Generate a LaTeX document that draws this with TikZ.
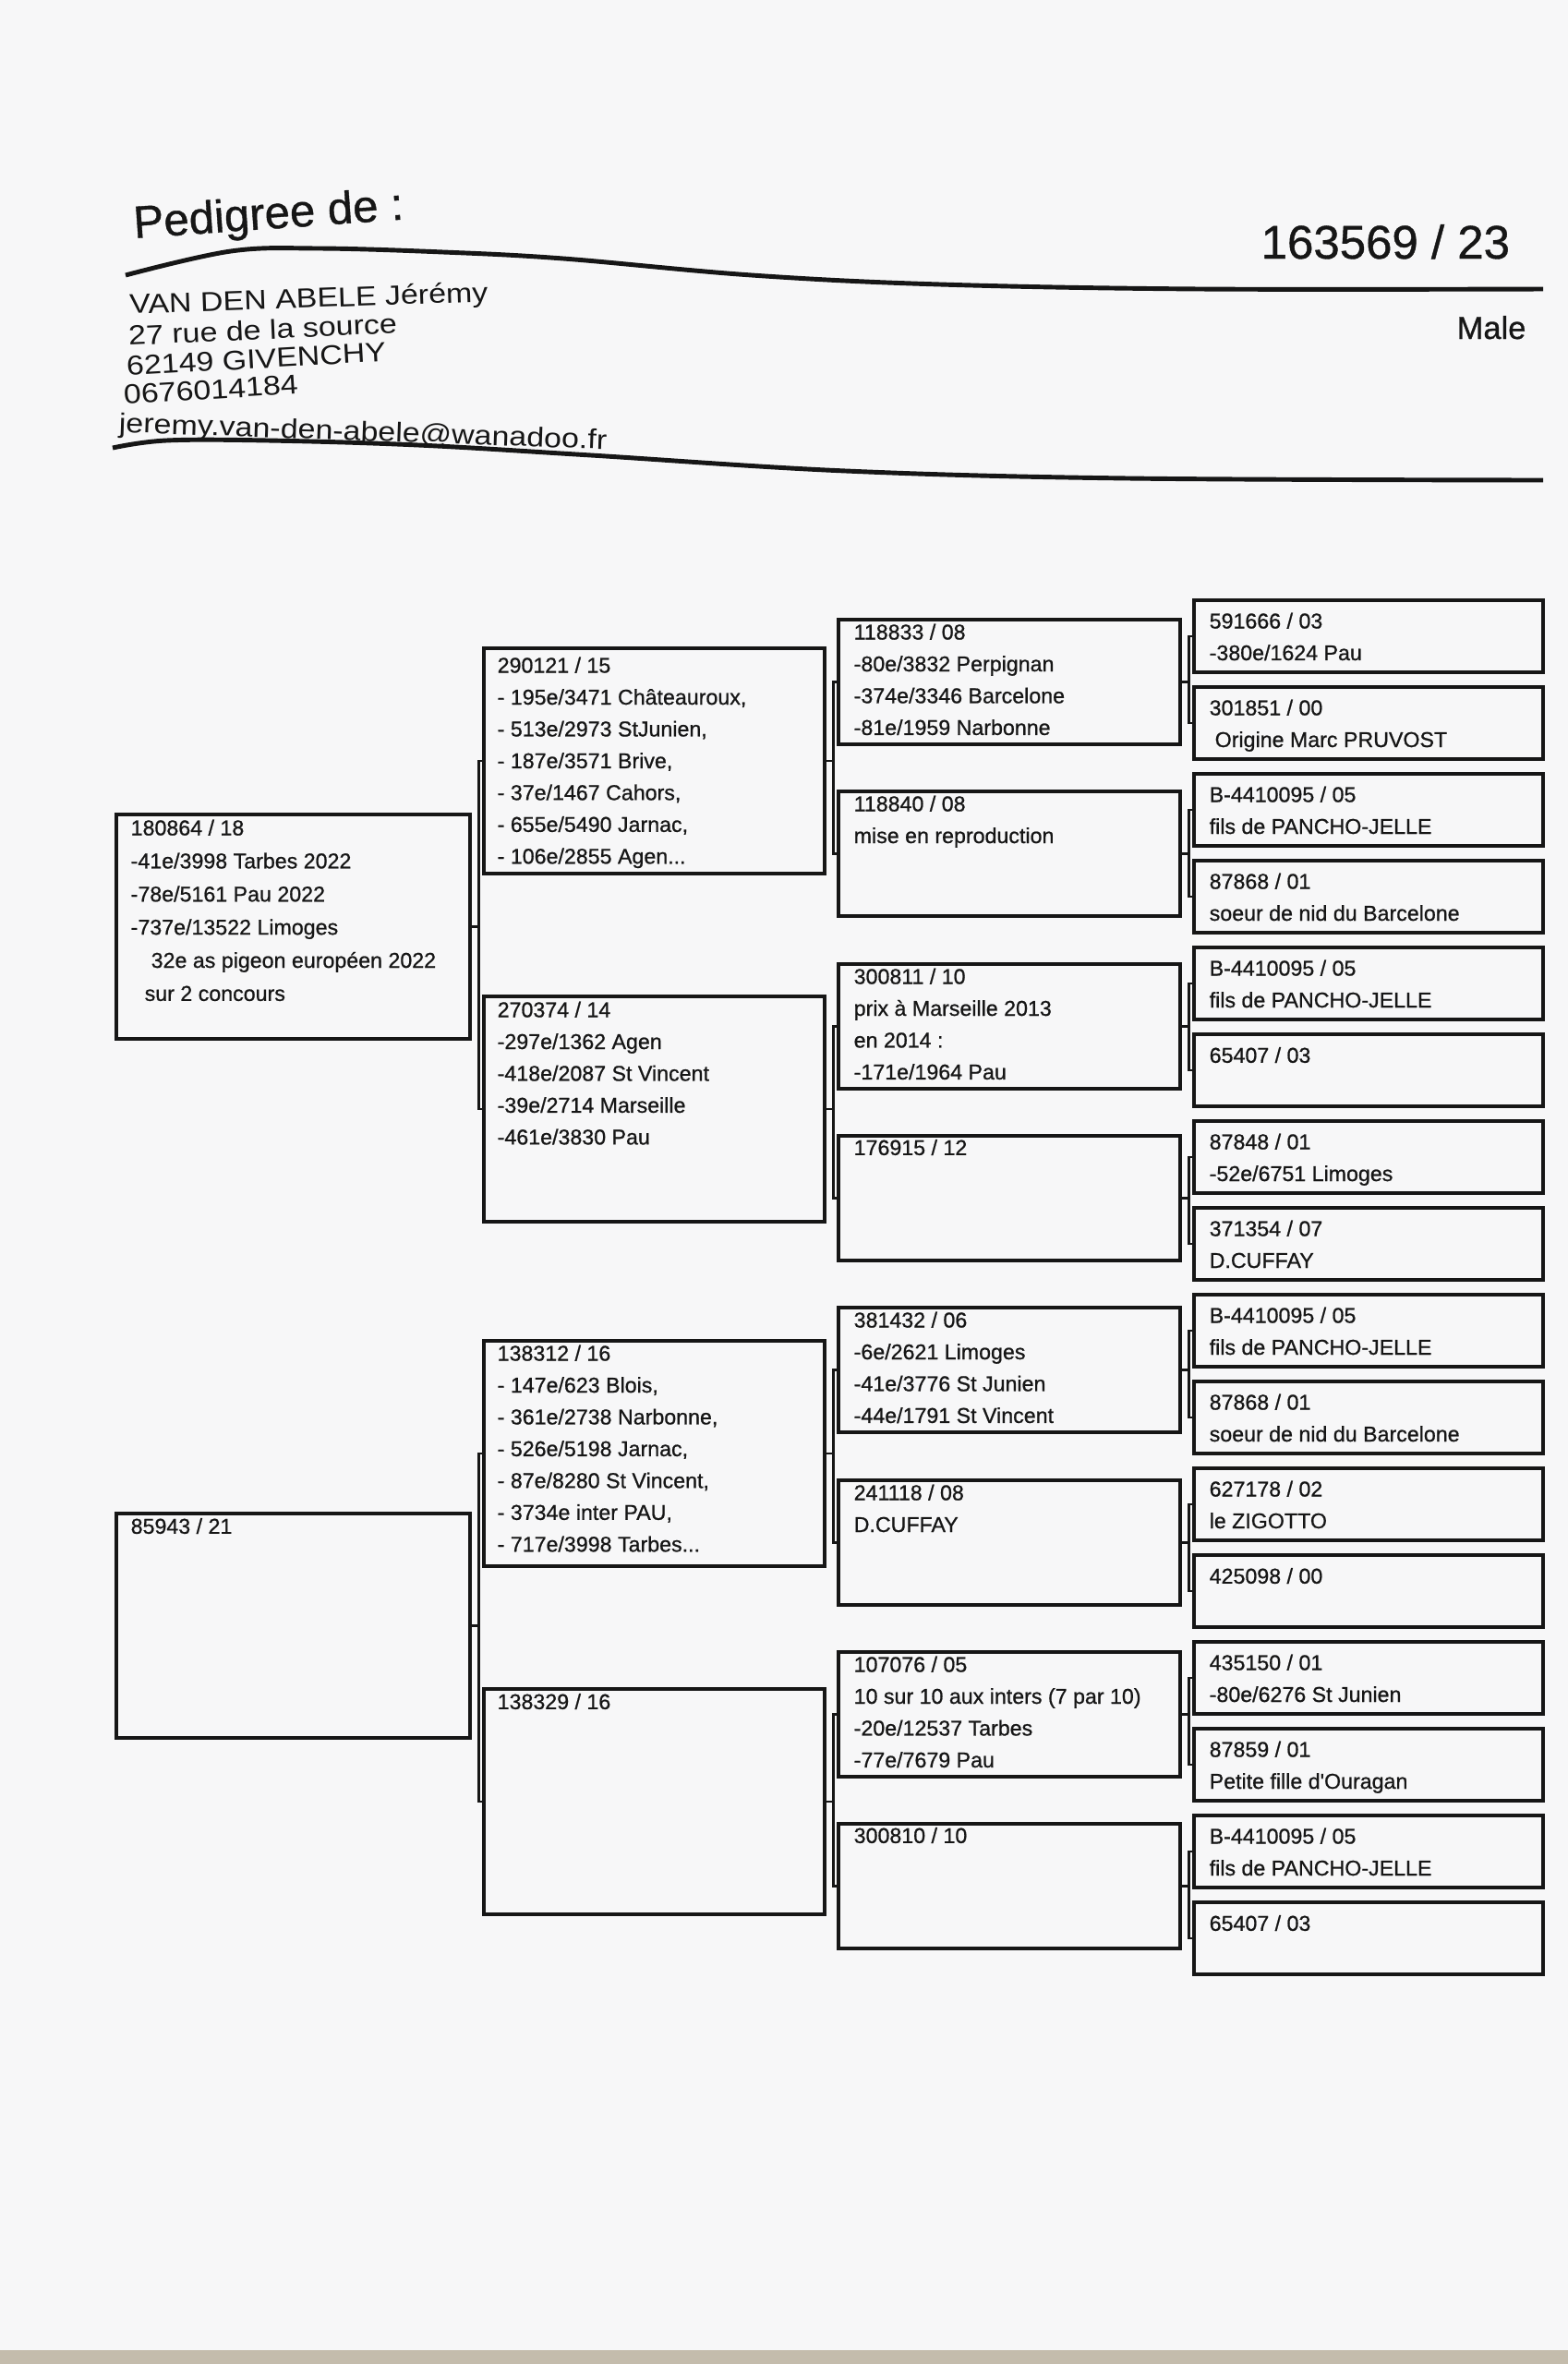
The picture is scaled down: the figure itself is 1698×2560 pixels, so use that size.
\documentclass[tikz,border=0pt]{standalone}
\usepackage{fontspec}
\setmainfont{Liberation Sans}[RawFeature={embolden=0.8}]
\newfontfamily\addrfont{Liberation Sans}[FakeStretch=1.15]
\usetikzlibrary{positioning, calc}

\definecolor{paper}{RGB}{247,247,248}
\definecolor{ink}{RGB}{22,22,22}
\definecolor{edgecol}{RGB}{196,188,172}

\begin{document}
\begin{tikzpicture}[
    x=0.01cm, y=-0.01cm,
    box/.style={draw=ink, line width=1.2pt, anchor=north west, inner sep=0pt},
    gen1/.style={box, minimum width=3.83cm, minimum height=2.43cm},
    gen2/.style={box, minimum width=3.69cm, minimum height=2.44cm},
    gen3/.style={box, minimum width=3.70cm, minimum height=1.35cm},
    gen4/.style={box, minimum width=3.78cm, minimum height=0.78cm},
    info/.style={anchor=north west, align=left, inner sep=0pt, text=ink, font=\fontsize{6.6}{9.8}\selectfont, execute at begin node=\strut},
    lines/.style={info, yshift=-0.08cm},
    addr/.style={anchor=base west, inner sep=0pt, text=ink, font=\addrfont\fontsize{8.4}{9.5}\selectfont},
    link/.style={draw=ink, line width=0.7pt},
    rule/.style={draw=ink, line width=1.4pt}
]
    % Paper
    \useasboundingbox (0,0) rectangle (1698,2560);
    \fill[paper] (0,0) rectangle (1698,2560);
    \fill[edgecol] (0,2545) rectangle (1698,2560);

    % Header
    \node[anchor=base west, inner sep=0pt, text=ink, font=\fontsize{14}{16}\selectfont, rotate=4] (title) at (145,258) {Pedigree de :};
    \node[anchor=base west, inner sep=0pt, text=ink, font=\fontsize{14.5}{16}\selectfont] (ring) at (1365,280) {163569 / 23};
    \node[anchor=base west, inner sep=0pt, text=ink, font=\fontsize{9.8}{11}\selectfont] (sex) at (1577,367) {Male};
    \draw[rule] plot[smooth, tension=0.6] coordinates {(136,298) (250,272) (345,269) (480,273) (610,280) (814,298) (1018,308) (1300,313) (1671,313)};
    \node[addr, rotate=2] (owner) at (140,340) {VAN DEN ABELE Jérémy};
    \node[addr, rotate=2.6] (street) at (139,374) {27 rue de la source};
    \node[addr, rotate=3.2] (town) at (137,407) {62149 GIVENCHY};
    \node[addr, rotate=3.5] (phone) at (134,438) {0676014184};
    \node[addr, rotate=-2] (mail) at (128,468) {jeremy.van-den-abele@wanadoo.fr};
    \draw[rule] plot[smooth, tension=0.6] coordinates {(122,485) (180,477) (290,477) (453,482) (640,493) (916,510) (1222,518) (1671,520)};

    % Parents
    \node[gen1] (a1) at (124,880) {};
    \node[gen1] (a2) at (124,1637) {};
    \node[lines, font=\fontsize{6.6}{10.2}\selectfont] (a1t) at ([shift={(17,-1)}]a1.north west) {180864 / 18\\-41e/3998 Tarbes 2022\\-78e/5161 Pau 2022\\-737e/13522 Limoges\\\hspace*{0.22cm}32e as pigeon européen 2022\\\hspace*{0.15cm}sur 2 concours};
    \node[info] (a2t) at ([shift={(17,-1)}]a2.north west) {85943 / 21};

    % Grandparents
    \node[gen2] (b1) at (522,700) {};
    \node[gen2] (b2) at (522,1077) {};
    \node[gen2] (b3) at (522,1450) {};
    \node[gen2] (b4) at (522,1827) {};
    \node[lines] (b1t) at ([shift={(16,3)}]b1.north west) {290121 / 15\\- 195e/3471 Châteauroux,\\- 513e/2973 StJunien,\\- 187e/3571 Brive,\\- 37e/1467 Cahors,\\- 655e/5490 Jarnac,\\- 106e/2855 Agen...};
    \node[lines] (b2t) at ([shift={(16,-1)}]b2.north west) {270374 / 14\\-297e/1362 Agen\\-418e/2087 St Vincent\\-39e/2714 Marseille\\-461e/3830 Pau};
    \node[lines] (b3t) at ([shift={(16,-2)}]b3.north west) {138312 / 16\\- 147e/623 Blois,\\- 361e/2738 Narbonne,\\- 526e/5198 Jarnac,\\- 87e/8280 St Vincent,\\- 3734e inter PAU,\\- 717e/3998 Tarbes...};
    \node[info] (b4t) at ([shift={(16,-1)}]b4.north west) {138329 / 16};

    % Great-grandparents
    \node[gen3] (c1) at (906,669) {};
    \node[gen3] (c2) at (906,855) {};
    \node[gen3] (c3) at (906,1042) {};
    \node[gen3] (c4) at (906,1228) {};
    \node[gen3] (c5) at (906,1414) {};
    \node[gen3] (c6) at (906,1601) {};
    \node[gen3] (c7) at (906,1787) {};
    \node[gen3] (c8) at (906,1973) {};
    \node[lines] (c1t) at ([shift={(18,-2)}]c1.north west) {118833 / 08\\-80e/3832 Perpignan\\-374e/3346 Barcelone\\-81e/1959 Narbonne};
    \node[lines] (c2t) at ([shift={(18,-2)}]c2.north west) {118840 / 08\\mise en reproduction};
    \node[lines] (c3t) at ([shift={(18,-2)}]c3.north west) {300811 / 10\\prix à Marseille 2013\\en 2014 :\\-171e/1964 Pau};
    \node[info] (c4t) at ([shift={(18,-2)}]c4.north west) {176915 / 12};
    \node[lines] (c5t) at ([shift={(18,-2)}]c5.north west) {381432 / 06\\-6e/2621 Limoges\\-41e/3776 St Junien\\-44e/1791 St Vincent};
    \node[lines] (c6t) at ([shift={(18,-2)}]c6.north west) {241118 / 08\\D.CUFFAY};
    \node[lines] (c7t) at ([shift={(18,-2)}]c7.north west) {107076 / 05\\10 sur 10 aux inters (7 par 10)\\-20e/12537 Tarbes\\-77e/7679 Pau};
    \node[info] (c8t) at ([shift={(18,-2)}]c8.north west) {300810 / 10};

    % Great-great-grandparents
    \node[gen4] (d1) at (1291,648) {};
    \node[gen4] (d2) at (1291,742) {};
    \node[gen4] (d3) at (1291,836) {};
    \node[gen4] (d4) at (1291,930) {};
    \node[gen4] (d5) at (1291,1024) {};
    \node[gen4] (d6) at (1291,1118) {};
    \node[gen4] (d7) at (1291,1212) {};
    \node[gen4] (d8) at (1291,1306) {};
    \node[gen4] (d9) at (1291,1400) {};
    \node[gen4] (d10) at (1291,1494) {};
    \node[gen4] (d11) at (1291,1588) {};
    \node[gen4] (d12) at (1291,1682) {};
    \node[gen4] (d13) at (1291,1776) {};
    \node[gen4] (d14) at (1291,1870) {};
    \node[gen4] (d15) at (1291,1964) {};
    \node[gen4] (d16) at (1291,2058) {};
    \node[lines] (d1t) at ([shift={(18,7)}]d1.north west) {591666 / 03\\-380e/1624 Pau};
    \node[lines] (d2t) at ([shift={(18,7)}]d2.north west) {301851 / 00\\\hspace*{0.06cm}Origine Marc PRUVOST};
    \node[lines] (d3t) at ([shift={(18,7)}]d3.north west) {B-4410095 / 05\\fils de PANCHO-JELLE};
    \node[lines] (d4t) at ([shift={(18,7)}]d4.north west) {87868 / 01\\soeur de nid du Barcelone};
    \node[lines] (d5t) at ([shift={(18,7)}]d5.north west) {B-4410095 / 05\\fils de PANCHO-JELLE};
    \node[info] (d6t) at ([shift={(18,8)}]d6.north west) {65407 / 03};
    \node[lines] (d7t) at ([shift={(18,7)}]d7.north west) {87848 / 01\\-52e/6751 Limoges};
    \node[lines] (d8t) at ([shift={(18,7)}]d8.north west) {371354 / 07\\D.CUFFAY};
    \node[lines] (d9t) at ([shift={(18,7)}]d9.north west) {B-4410095 / 05\\fils de PANCHO-JELLE};
    \node[lines] (d10t) at ([shift={(18,7)}]d10.north west) {87868 / 01\\soeur de nid du Barcelone};
    \node[lines] (d11t) at ([shift={(18,7)}]d11.north west) {627178 / 02\\le ZIGOTTO};
    \node[info] (d12t) at ([shift={(18,8)}]d12.north west) {425098 / 00};
    \node[lines] (d13t) at ([shift={(18,7)}]d13.north west) {435150 / 01\\-80e/6276 St Junien};
    \node[lines] (d14t) at ([shift={(18,7)}]d14.north west) {87859 / 01\\Petite fille d\textquotesingle Ouragan};
    \node[lines] (d15t) at ([shift={(18,7)}]d15.north west) {B-4410095 / 05\\fils de PANCHO-JELLE};
    \node[info] (d16t) at ([shift={(18,8)}]d16.north west) {65407 / 03};

    % Brackets
    \draw[link] (a1.east) -- ++(7,0) |- (b1.west);
    \draw[link] (a1.east) -- ++(7,0) |- (b2.west);
    \draw[link] (a2.east) -- ++(7,0) |- (b3.west);
    \draw[link] (a2.east) -- ++(7,0) |- (b4.west);
    \draw[link] (b1.east) -- ++(7,0) |- (c1.west);
    \draw[link] (b1.east) -- ++(7,0) |- (c2.west);
    \draw[link] (b2.east) -- ++(7,0) |- (c3.west);
    \draw[link] (b2.east) -- ++(7,0) |- (c4.west);
    \draw[link] (b3.east) -- ++(7,0) |- (c5.west);
    \draw[link] (b3.east) -- ++(7,0) |- (c6.west);
    \draw[link] (b4.east) -- ++(7,0) |- (c7.west);
    \draw[link] (b4.east) -- ++(7,0) |- (c8.west);
    \draw[link] (c1.east) -- ++(7,0) |- (d1.west);
    \draw[link] (c1.east) -- ++(7,0) |- (d2.west);
    \draw[link] (c2.east) -- ++(7,0) |- (d3.west);
    \draw[link] (c2.east) -- ++(7,0) |- (d4.west);
    \draw[link] (c3.east) -- ++(7,0) |- (d5.west);
    \draw[link] (c3.east) -- ++(7,0) |- (d6.west);
    \draw[link] (c4.east) -- ++(7,0) |- (d7.west);
    \draw[link] (c4.east) -- ++(7,0) |- (d8.west);
    \draw[link] (c5.east) -- ++(7,0) |- (d9.west);
    \draw[link] (c5.east) -- ++(7,0) |- (d10.west);
    \draw[link] (c6.east) -- ++(7,0) |- (d11.west);
    \draw[link] (c6.east) -- ++(7,0) |- (d12.west);
    \draw[link] (c7.east) -- ++(7,0) |- (d13.west);
    \draw[link] (c7.east) -- ++(7,0) |- (d14.west);
    \draw[link] (c8.east) -- ++(7,0) |- (d15.west);
    \draw[link] (c8.east) -- ++(7,0) |- (d16.west);

\end{tikzpicture}
\end{document}
